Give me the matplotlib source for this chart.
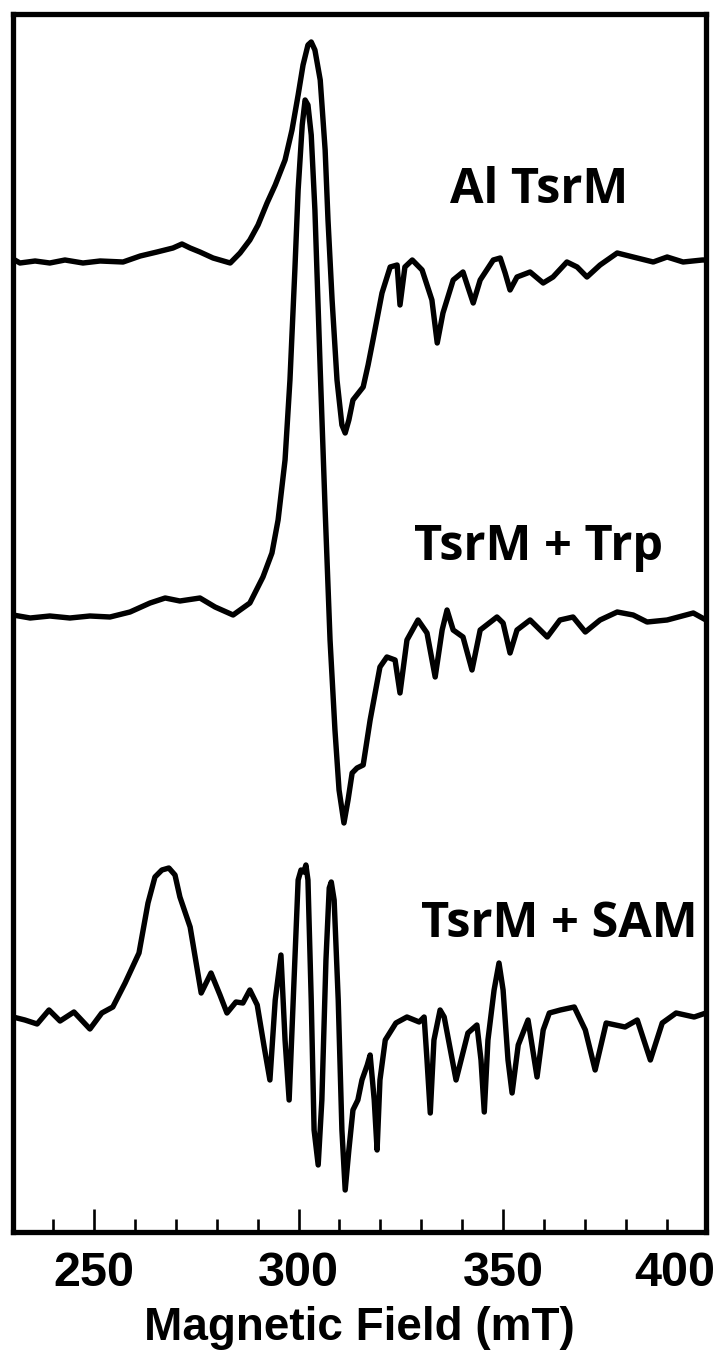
import matplotlib
matplotlib.use("Agg")
import matplotlib.pyplot as plt
from matplotlib.ticker import MultipleLocator

# ---- data (magnetic field in mT, intensity in arbitrary units) ----
al_field = [230.2, 231.9, 235.6, 239.2, 242.9, 247.3, 251.5, 257.1, 261.3, 265.4, 269.3, 271.5,
            273.5, 275.9, 279.1, 283.3, 285.7, 288.1, 290.1, 292.3, 294.3, 296.7, 298.4, 299.9,
            301.1, 302.3, 303.1, 304.0, 305.3, 306.5, 307.2, 308.2, 309.4, 310.6, 311.4, 312.3,
            313.3, 315.8, 317.0, 318.2, 320.4, 322.4, 324.1, 324.8, 326.0, 327.8, 330.2, 332.6,
            333.9, 335.3, 337.8, 340.2, 341.4, 342.7, 344.4, 347.6, 349.3, 350.5, 351.7, 353.4,
            356.6, 359.8, 362.2, 365.6, 368.1, 370.5, 373.7, 377.9, 381.8, 386.7, 390.1, 394.0,
            398.7, 399.6]
al_signal = [3, -1, 1, -1, 2, -1, 1, 0, 6, 10, 14, 18,
             14, 10, 4, -1, 9, 22, 37, 59, 77, 102, 132, 167,
             197, 217, 220, 212, 182, 112, 42, -38, -118, -163, -171, -158,
             -138, -125, -103, -78, -31, -5, -3, -43, -5, 2, -8, -38,
             -81, -51, -18, -10, -25, -41, -18, 2, 4, -11, -28, -15,
             -10, -21, -15, 0, -5, -15, -3, 9, 5, 0, 5, 0,
             2, 2]

trp_field = [230.2, 234.4, 239.2, 244.1, 249.0, 253.9, 258.8, 263.7, 267.4, 271.0, 275.9, 279.6,
             284.0, 288.1, 291.3, 293.5, 295.0, 296.7, 297.9, 299.1, 299.9, 300.9, 301.6, 302.3,
             303.1, 304.0, 305.3, 306.5, 307.7, 308.9, 309.9, 311.1, 312.1, 313.1, 314.3, 315.8,
             317.5, 319.9, 321.6, 323.6, 324.8, 326.5, 329.2, 331.4, 333.4, 335.1, 336.3, 337.8,
             340.2, 342.4, 344.4, 348.5, 350.0, 351.7, 353.4, 356.6, 360.8, 363.9, 367.1, 370.1,
             373.7, 377.9, 381.8, 385.2, 390.1, 396.5, 399.6]
trp_signal = [2, -1, 1, -1, 1, 0, 5, 14, 19, 16, 19, 10,
              2, 14, 40, 64, 97, 157, 237, 347, 427, 492, 517, 512,
              482, 407, 247, 107, -23, -113, -173, -206, -183, -156, -151, -148,
              -103, -50, -40, -43, -76, -23, -3, -16, -60, -13, 7, -13,
              -20, -53, -13, 0, -6, -36, -13, -3, -20, -3, 0, -15,
              -3, 5, 2, -5, -3, 4, -3]

sam_field = [230.2, 233.1, 236.1, 239.0, 241.7, 245.1, 249.0, 251.9, 254.6, 257.6, 261.0, 263.2,
             264.9, 266.6, 268.3, 269.8, 271.0, 273.5, 276.2, 278.6, 280.8, 282.5, 284.7, 286.4,
             288.1, 289.9, 291.6, 293.0, 294.3, 295.7, 296.7, 297.7, 298.7, 299.9, 300.6, 301.3,
             301.8, 302.3, 303.1, 303.8, 304.8, 305.7, 306.7, 307.5, 308.0, 308.7, 309.7, 310.6,
             311.4, 312.3, 313.3, 314.5, 315.5, 316.8, 317.5, 318.5, 319.2, 319.9, 321.2, 323.8,
             326.5, 329.5, 330.7, 331.4, 332.2, 333.1, 334.6, 335.6, 338.5, 341.4, 343.6, 344.6,
             345.4, 346.3, 347.8, 349.0, 350.0, 351.2, 352.2, 353.7, 356.1, 358.3, 359.8, 361.3,
             364.0, 367.4, 370.1, 372.5, 375.2, 379.8, 382.8, 386.0, 388.9, 392.3, 396.7, 399.6]
sam_signal = [1, -2, -6, 8, -3, 6, -11, 5, 11, 35, 65, 115,
              141, 148, 150, 143, 121, 91, 25, 45, 23, 5, 16, 15,
              28, 13, -29, -62, 18, 63, -22, -82, 18, 138, 148, 146,
              153, 138, 18, -112, -147, -82, 58, 130, 136, 118, 18, -112,
              -172, -132, -92, -82, -62, -47, -37, -82, -132, -62, -22, -5,
              1, -4, 1, -42, -95, -22, 8, 1, -62, -15, -7, -42,
              -94, -22, 28, 55, 28, -42, -75, -27, -2, -59, -12, 5,
              8, 11, -12, -52, -5, -9, -2, -42, -5, 5, 1, 5]

offsets = [970, 615, 214]
labels = ["Al TsrM", "TsrM + Trp", "TsrM + SAM"]
label_x = [358.8, 358.6, 363.7]
label_y = [1029, 672, 295]

major_ticks = [250, 300, 350]
tick_labels = ["250", "300", "350"]
last_label = "400"

# ---- figure ----
fig = plt.figure(figsize=(7.21, 13.55), dpi=100)
ax = fig.add_axes([13 / 721, 123 / 1355, 693 / 721, 1218 / 1355])

series = [(al_field, al_signal), (trp_field, trp_signal), (sam_field, sam_signal)]
for (f, s), off in zip(series, offsets):
    ax.plot(f, [v + off for v in s], color="black", lw=3.9,
            solid_joinstyle="round", solid_capstyle="round")

for txt, lx, ly in zip(labels, label_x, label_y):
    ax.text(lx, ly, txt, ha="center", va="baseline", fontsize=35,
            family=["Open Sans", "DejaVu Sans"], fontweight="bold")

ax.set_xlim(230.2, 399.6)
ax.set_ylim(0, 1218)
ax.set_yticks([])
ax.set_xticks(major_ticks)
ax.set_xticklabels(tick_labels)
ax.xaxis.set_minor_locator(MultipleLocator(10))
ax.tick_params(axis="x", which="major", direction="in", length=16.5, width=1.9,
               pad=14, labelsize=35)
ax.tick_params(axis="x", which="minor", direction="in", length=9.4, width=1.9)
for lab in ax.get_xticklabels():
    lab.set_family(["Liberation Sans", "DejaVu Sans"])
    lab.set_fontweight("bold")

ax.annotate(last_label, xy=(401.8, 0), xycoords=("data", "axes fraction"),
            xytext=(0, -14), textcoords="offset points", ha="right", va="top",
            fontsize=35, fontweight="bold", family=["Liberation Sans", "DejaVu Sans"],
            annotation_clip=False)

ax.set_xlabel("Magnetic Field (mT)", fontsize=33, fontweight="bold",
              family=["Liberation Sans", "DejaVu Sans"], labelpad=7)

for sp in ax.spines.values():
    sp.set_linewidth(3.8)

fig.savefig("out.png", dpi=100, facecolor="white")
